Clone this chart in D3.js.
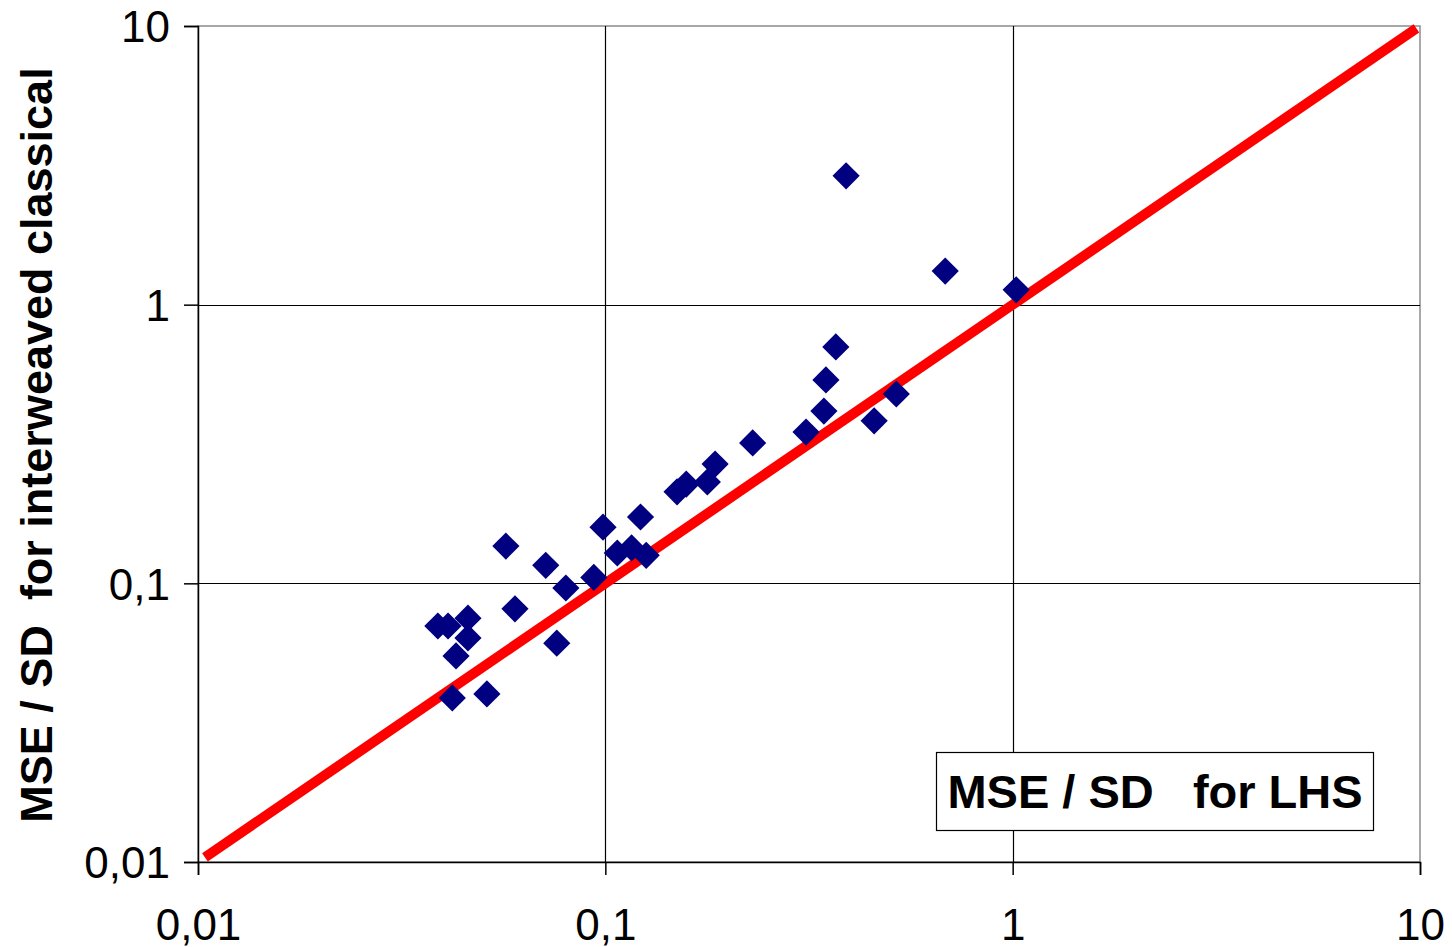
<!DOCTYPE html>
<html>
<head>
<meta charset="utf-8">
<script src="https://cdn.jsdelivr.net/npm/d3@7"></script>
<style>
  html, body { margin: 0; padding: 0; background: #fff; }
  svg { display: block; font-family: "Liberation Sans", Arial, sans-serif; }
</style>
</head>
<body>
<svg id="chart" width="1452" height="947"></svg>
<script>
// MSE/SD for LHS (x) versus MSE/SD for interweaved classical (y)
const lhsValues = [
  0.390, 0.683, 1.02, 0.368, 0.348, 0.344, 0.457, 0.518, 0.311, 0.230,
  0.186, 0.178, 0.158, 0.150, 0.122, 0.0987, 0.107, 0.116, 0.126, 0.0937,
  0.080, 0.0714, 0.0570, 0.060, 0.076, 0.046, 0.046, 0.043, 0.0388, 0.0411,
  0.0421, 0.0512
];
const classicalValues = [
  2.90, 1.32, 1.13, 0.705, 0.537, 0.415, 0.383, 0.478, 0.349, 0.319,
  0.268, 0.231, 0.227, 0.213, 0.173, 0.159, 0.1285, 0.134, 0.126, 0.105,
  0.0962, 0.116, 0.136, 0.081, 0.061, 0.075, 0.0637, 0.0549, 0.0703, 0.0703,
  0.0388, 0.0401
];
// reference line y = x
const identityLine = [0.0104, 9.8];

const tickValues = [0.01, 0.1, 1, 10];
const tickLabels = ["0,01", "0,1", "1", "10"];

const yTitle = "MSE / SD  for interweaved classical";
const legendText = "MSE / SD\u00a0\u00a0\u00a0for LHS";

const svg = d3.select("#chart");
const plotLeft = 198, plotRight = 1420, plotTop = 26, plotBottom = 862;

const x = d3.scaleLog().domain([0.01, 10]).range([plotLeft, plotRight]);
const y = d3.scaleLog().domain([0.01, 10]).range([plotBottom, plotTop]);

// plot area border
svg.append("rect")
  .attr("x", plotLeft).attr("y", plotTop)
  .attr("width", plotRight - plotLeft).attr("height", plotBottom - plotTop)
  .attr("fill", "#fff").attr("stroke", "#8c8c8c").attr("stroke-width", 1.5);

// major gridlines
const g = svg.append("g");
g.selectAll("line.vg").data(tickValues.slice(1, -1)).join("line")
  .attr("x1", d => Math.round(x(d)) + 0.5).attr("x2", d => Math.round(x(d)) + 0.5)
  .attr("y1", plotTop).attr("y2", plotBottom)
  .attr("stroke", "#000").attr("stroke-width", 1.2);
g.selectAll("line.hg").data(tickValues.slice(1, -1)).join("line")
  .attr("y1", d => Math.round(y(d)) + 0.5).attr("y2", d => Math.round(y(d)) + 0.5)
  .attr("x1", plotLeft).attr("x2", plotRight)
  .attr("stroke", "#000").attr("stroke-width", 1.2);

// axes
const xAxis = d3.axisBottom(x).tickValues(tickValues)
  .tickFormat((d, i) => tickLabels[i]).tickSize(13).tickPadding(34);
const yAxis = d3.axisLeft(y).tickValues(tickValues)
  .tickFormat((d, i) => tickLabels[i]).tickSize(14).tickPadding(14);

const gx = svg.append("g").attr("transform", `translate(0,${plotBottom})`).call(xAxis);
const gy = svg.append("g").attr("transform", `translate(${plotLeft},0)`).call(yAxis);
[gx, gy].forEach(a => {
  a.select(".domain").attr("stroke", "#000").attr("stroke-width", 1.5);
  a.selectAll(".tick line").attr("stroke", "#000").attr("stroke-width", 1.5);
  a.selectAll(".tick text")
    .attr("font-family", "'Liberation Sans', Arial, sans-serif")
    .attr("font-size", 44).attr("fill", "#000");
});
gy.selectAll(".tick text").attr("dy", "0.36em");
gx.selectAll(".tick text").attr("dy", "0.71em");

// identity line
svg.append("path")
  .datum(identityLine)
  .attr("d", d3.line().x(d => x(d)).y(d => y(d)))
  .attr("stroke", "#ff0000").attr("stroke-width", 10).attr("fill", "none");

// data points as diamonds
const pts = lhsValues.map((v, i) => ({ lhs: v, cls: classicalValues[i] }));
const diamond = d3.symbol().type(d3.symbolSquare).size(370);
svg.append("g").selectAll("path").data(pts).join("path")
  .attr("d", diamond)
  .attr("transform", d => `translate(${x(d.lhs)},${y(d.cls)}) rotate(45)`)
  .attr("fill", "#000080");

// y axis title
svg.append("text")
  .attr("transform", `translate(52,${(plotTop + plotBottom) / 2 + 1}) rotate(-90)`)
  .attr("text-anchor", "middle")
  .attr("font-weight", "bold").attr("font-size", 45)
  .style("white-space", "pre")
  .text(yTitle);

// legend box
const lg = svg.append("g");
lg.append("rect")
  .attr("x", 936.5).attr("y", 752.5).attr("width", 437).attr("height", 78)
  .attr("fill", "#fff").attr("stroke", "#000").attr("stroke-width", 1.2);
lg.append("text")
  .attr("x", 1155).attr("y", 808)
  .attr("text-anchor", "middle")
  .attr("font-weight", "bold").attr("font-size", 47)
  .text(legendText);
</script>
</body>
</html>
